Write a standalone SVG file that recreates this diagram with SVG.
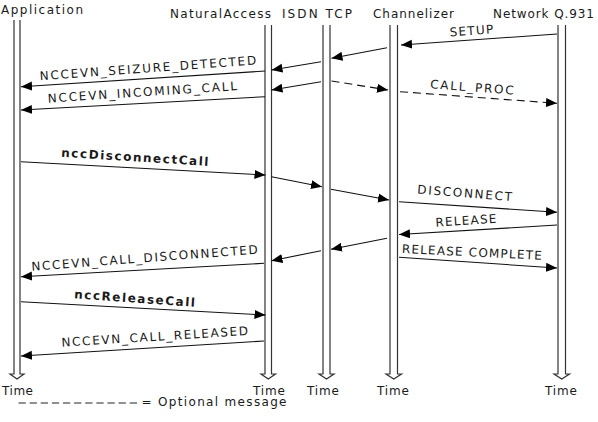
<svg xmlns="http://www.w3.org/2000/svg" width="598" height="422" viewBox="0 0 598 422">
<style>
text{font-family:"DejaVu Sans","Verdana","Liberation Sans",sans-serif;font-size:12px;fill:#1a1a1a}
.b{font-weight:bold}
.life{fill:#fff;stroke:#333;stroke-width:1.2}
.msg{fill:none;stroke:#111;stroke-width:1.1;marker-end:url(#ah)}
.dash{stroke-dasharray:8 5}
</style>
<defs>
<marker id="ah" markerUnits="userSpaceOnUse" markerWidth="12" markerHeight="10" refX="11" refY="4.5" orient="auto">
<path d="M0,0 L11,4.5 L0,9 z" fill="#000"/>
</marker>
</defs>
<rect width="598" height="422" fill="#fff"/>

<g id="app">
<text x="1" y="14" textLength="82" lengthAdjust="spacing">Application</text>
<path class="life" d="M14,20 V374 H10 L17,379 L24,374 H20 V20"/>
<text x="2" y="395" textLength="31" lengthAdjust="spacing">Time</text>
</g>
<g id="naturalaccess">
<text x="170" y="18" textLength="101" lengthAdjust="spacing">NaturalAccess</text>
<path class="life" d="M265,25 V374 H261 L268.25,379 L275.5,374 H271.5 V25"/>
<text x="253" y="395" textLength="32" lengthAdjust="spacing">Time</text>
</g>
<g id="isdntcp">
<text x="282" y="18" textLength="70" lengthAdjust="spacing">ISDN TCP</text>
<path class="life" d="M323,25 V374 H319 L326.5,379 L334,374 H330 V25"/>
<text x="307" y="395" textLength="32" lengthAdjust="spacing">Time</text>
</g>
<g id="channelizer">
<text x="373" y="18" textLength="81" lengthAdjust="spacing">Channelizer</text>
<path class="life" d="M390,25 V374 H386 L393.75,379 L401.5,374 H397.5 V25"/>
<text x="377" y="395" textLength="32" lengthAdjust="spacing">Time</text>
</g>
<g id="network">
<text x="493" y="18" textLength="101" lengthAdjust="spacing">Network Q.931</text>
<path class="life" d="M558,25 V374 H554 L561.75,379 L569.5,374 H565.5 V25"/>
<text x="545" y="395" textLength="32" lengthAdjust="spacing">Time</text>
</g>

<g id="connectors">
<line class="msg" x1="557" y1="34" x2="401" y2="45"/>
<line class="msg" x1="387" y1="47.7" x2="331.5" y2="58.3"/>
<line class="msg" x1="321" y1="61.7" x2="271.5" y2="70"/>
<line class="msg" x1="265" y1="71" x2="21" y2="86.7"/>
<line class="msg" x1="321" y1="81.7" x2="271.5" y2="90"/>
<line class="msg" x1="265" y1="96.7" x2="21" y2="110"/>
<line class="msg dash" x1="331.5" y1="81" x2="388" y2="90"/>
<line class="msg dash" x1="400" y1="91.7" x2="557" y2="103.3"/>
<line class="msg" x1="21" y1="161.7" x2="265.5" y2="175"/>
<line class="msg" x1="271.5" y1="176.7" x2="322" y2="186.7"/>
<line class="msg" x1="331" y1="189.3" x2="389" y2="200"/>
<line class="msg" x1="399" y1="201.7" x2="557" y2="212.3"/>
<line class="msg" x1="557" y1="225" x2="399" y2="234.5"/>
<line class="msg" x1="387" y1="238.3" x2="331" y2="249.3"/>
<line class="msg" x1="321" y1="250.7" x2="271.5" y2="260.7"/>
<line class="msg" x1="264" y1="263.3" x2="21" y2="276.7"/>
<line class="msg" x1="399" y1="257.3" x2="557" y2="268"/>
<line class="msg" x1="21" y1="301.7" x2="265.5" y2="315"/>
<line class="msg" x1="264" y1="341" x2="21" y2="356"/>
</g>

<g id="labels">
<text x="450" y="36.5" textLength="43.5" lengthAdjust="spacing" transform="rotate(-4.2 450 36.5)">SETUP</text>
<text x="40" y="80.3" textLength="217" lengthAdjust="spacing" transform="rotate(-4.2 40 80.3)">NCCEVN_SEIZURE_DETECTED</text>
<text x="48" y="102.7" textLength="189.5" lengthAdjust="spacing" transform="rotate(-3.8 48 102.7)">NCCEVN_INCOMING_CALL</text>
<text x="430" y="88.3" textLength="83.5" lengthAdjust="spacing" transform="rotate(4.3 430 88.3)">CALL_PROC</text>
<text class="b" x="61" y="156.7" textLength="147.5" lengthAdjust="spacing" transform="rotate(3.6 61 156.7)">nccDisconnectCall</text>
<text x="417" y="193.5" textLength="95" lengthAdjust="spacing" transform="rotate(4.6 417 193.5)">DISCONNECT</text>
<text x="435.7" y="226.7" textLength="61" lengthAdjust="spacing" transform="rotate(-3.7 435.7 226.7)">RELEASE</text>
<text x="31.7" y="270.7" textLength="227" lengthAdjust="spacing" transform="rotate(-4.3 31.7 270.7)">NCCEVN_CALL_DISCONNECTED</text>
<text x="401.7" y="253" textLength="140" lengthAdjust="spacing" transform="rotate(2.8 401.7 253)">RELEASE COMPLETE</text>
<text class="b" x="74" y="298.3" textLength="121" lengthAdjust="spacing" transform="rotate(4 74 298.3)">nccReleaseCall</text>
<text x="61.7" y="346.7" textLength="187" lengthAdjust="spacing" transform="rotate(-3.6 61.7 346.7)">NCCEVN_CALL_RELEASED</text>
</g>

<g id="legend">
<line x1="18.5" y1="403" x2="137" y2="403" stroke="#222" stroke-width="1" stroke-dasharray="7.3 3.82"/>
<text x="141.5" y="406" textLength="145" lengthAdjust="spacing">= Optional message</text>
</g>
</svg>
